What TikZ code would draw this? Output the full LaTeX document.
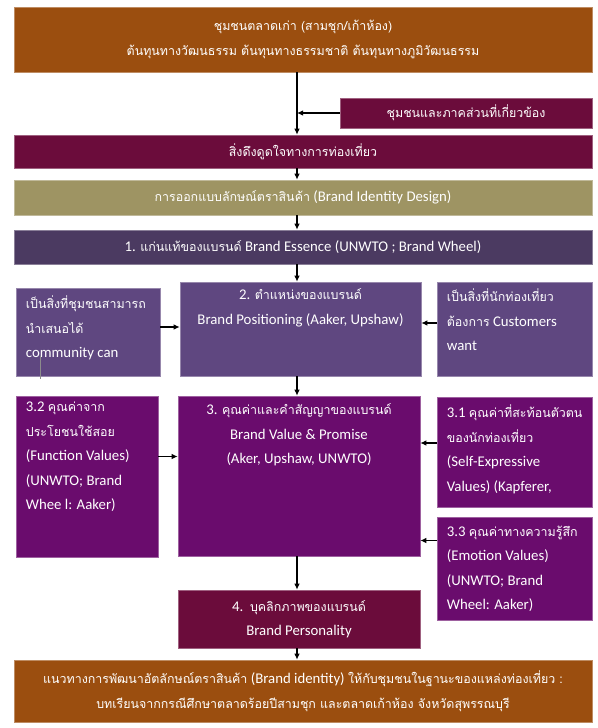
\documentclass[tikz,border=0pt]{standalone}
\usepackage{fontspec}
\setmainfont{Carlito}
\newfontfamily\thaifont[Script=Thai,Scale=0.84]{Loma}
\newcommand{\tht}[1]{{\thaifont #1}}
\usetikzlibrary{positioning, arrows.meta, calc}

\definecolor{oldbrown}{HTML}{9B4E0F}
\definecolor{maroonbox}{HTML}{6B0C3B}
\definecolor{olivebox}{HTML}{9E9463}
\definecolor{essbox}{HTML}{4B3A61}
\definecolor{posbox}{HTML}{5F4780}
\definecolor{valbox}{HTML}{6A0C6D}

\begin{document}
\begin{tikzpicture}[
    x=1pt, y=-1pt,
    >={Latex[length=6pt,width=5.5pt]},
    box/.style={fill=#1, draw=#1!65!white, line width=0.6pt, inner sep=0pt},
    txt/.style={text=white, align=center, inner sep=0pt,
        font=\fontsize{14.8}{24.5}\selectfont},
    side/.style={txt, align=left},
    flow/.style={->, line width=1.1pt}
]
    \useasboundingbox (0,0) rectangle (597,728);
    \coordinate (trunk) at (297,0);

    % top row
    \node[box=oldbrown, txt, minimum width=578pt, minimum height=65pt] (src) at (303,39.5)
        {\tht{ชุมชนตลาดเก่า (สามชุก/เก้าห้อง)}\\
         \tht{ต้นทุนทางวัฒนธรรม ต้นทุนทางธรรมชาติ ต้นทุนทางภูมิวัฒนธรรม}};
    \node[box=maroonbox, txt, minimum width=252pt, minimum height=30pt] (stake) at (466,113)
        {\tht{ชุมชนและภาคส่วนที่เกี่ยวข้อง}};
    \node[box=maroonbox, txt, minimum width=578pt, minimum height=33pt] (attr) at (303,151.5)
        {\tht{สิ่งดึงดูดใจทางการท่องเที่ยว}};
    \node[box=olivebox, txt, minimum width=578pt, minimum height=35pt] (design) at (303,197.5)
        {\tht{การออกแบบลักษณ์ตราสินค้า} (Brand Identity Design)};
    \node[box=essbox, txt, minimum width=578pt, minimum height=34pt] (ess) at (303,247)
        {1. \tht{แก่นแท้ของแบรนด์} Brand Essence (UNWTO ; Brand Wheel)};

    % positioning row
    \node[box=posbox, minimum width=241pt, minimum height=94pt] (pos) at (300.5,329) {};
    \node[txt, below=7pt of pos.north] (posText)
        {2. \tht{ตำแหน่งของแบรนด์}\\ Brand Positioning (Aaker, Upshaw)};
    \node[box=posbox, minimum width=144pt, minimum height=88pt] (cty) at (88,332) {};
    \node[side, below right=8pt and 10pt of cty.north west] (ctyText)
        {\tht{เป็นสิ่งที่ชุมชนสามารถ}\\ \tht{นำเสนอได้}\\ community can};
    \node[box=posbox, minimum width=155pt, minimum height=94pt] (want) at (514.5,329) {};
    \node[side, below right=7pt and 10pt of want.north west] (wantText)
        {\tht{เป็นสิ่งที่นักท่องเที่ยว}\\ \tht{ต้องการ} Customers\\ want};
    \draw[black!45, line width=1pt] ($(cty.south west)+(25,-20)$) -- ($(cty.south west)+(25,3)$);

    % value row
    \node[box=valbox, minimum width=242pt, minimum height=160pt] (val) at (299,476) {};
    \node[txt, below=8pt of val.north] (valText)
        {3. \tht{คุณค่าและคำสัญญาของแบรนด์}\\ Brand Value \& Promise\\ (Aker, Upshaw, UNWTO)};
    \node[box=valbox, minimum width=142pt, minimum height=161pt] (func) at (87,476.5) {};
    \node[side, below right=6pt and 10pt of func.north west] (funcText)
        {3.2 \tht{คุณค่าจาก}\\ \tht{ประโยชนใช้สอย}\\ (Function Values)\\ (UNWTO; Brand\\ Whee l: Aaker)};
    \node[box=valbox, minimum width=155pt, minimum height=110pt] (self) at (514.5,452) {};
    \node[side, below right=8pt and 10pt of self.north west] (selfText)
        {3.1 \tht{คุณค่าที่สะท้อนตัวตน}\\ \tht{ของนักท่องเที่ยว}\\ (Self-Expressive\\ Values) (Kapferer,};
    \node[box=valbox, minimum width=155pt, minimum height=103pt] (emo) at (514.5,568.5) {};
    \node[side, below right=9pt and 10pt of emo.north west] (emoText)
        {3.3 \tht{คุณค่าทางความรู้สึก}\\ (Emotion Values)\\ (UNWTO; Brand\\ Wheel: Aaker)};

    % bottom
    \node[box=maroonbox, txt, minimum width=242pt, minimum height=58pt] (pers) at (299,619)
        {4.\ \ \tht{บุคลิกภาพของแบรนด์}\\ Brand Personality};
    \node[box=oldbrown, txt, minimum width=578pt, minimum height=62pt] (dev) at (303,691)
        {\tht{แนวทางการพัฒนาอัตลักษณ์ตราสินค้า} (Brand identity) \tht{ให้กับชุมชนในฐานะของแหล่งท่องเที่ยว :}\\
         \tht{บทเรียนจากกรณีศึกษาตลาดร้อยปีสามชุก และตลาดเก้าห้อง จังหวัดสุพรรณบุรี}};

    % arrows
    \draw[flow] (src.south -| trunk) -- (attr.north -| trunk);
    \draw[flow] (stake.west) -- (stake.west -| trunk);
    \draw[flow] (attr.south -| trunk) -- (design.north -| trunk);
    \draw[flow] (design.south -| trunk) -- (ess.north -| trunk);
    \draw[flow] (ess.south -| trunk) -- (pos.north -| trunk);
    \draw[flow] ($(cty.east)+(0,-5)$) -- ($(cty.east -| pos.west)+(0,-5)$);
    \draw[flow] ($(want.west)+(0,-6)$) -- ($(want.west -| pos.east)+(0,-6)$);
    \draw[flow] (pos.south -| trunk) -- (val.north -| trunk);
    \draw[flow] ($(func.east)+(0,-20)$) -- ($(func.east -| val.west)+(0,-20)$);
    \draw[flow] ($(self.west)+(0,-9)$) -- ($(self.west -| val.east)+(0,-9)$);
    \draw[flow] ($(emo.west)+(0,-28)$) -- ($(emo.west -| val.east)+(0,-28)$);
    \draw[flow] (val.south -| trunk) -- (pers.north -| trunk);
    \draw[flow] (pers.south -| trunk) -- (dev.north -| trunk);
\end{tikzpicture}
\end{document}
